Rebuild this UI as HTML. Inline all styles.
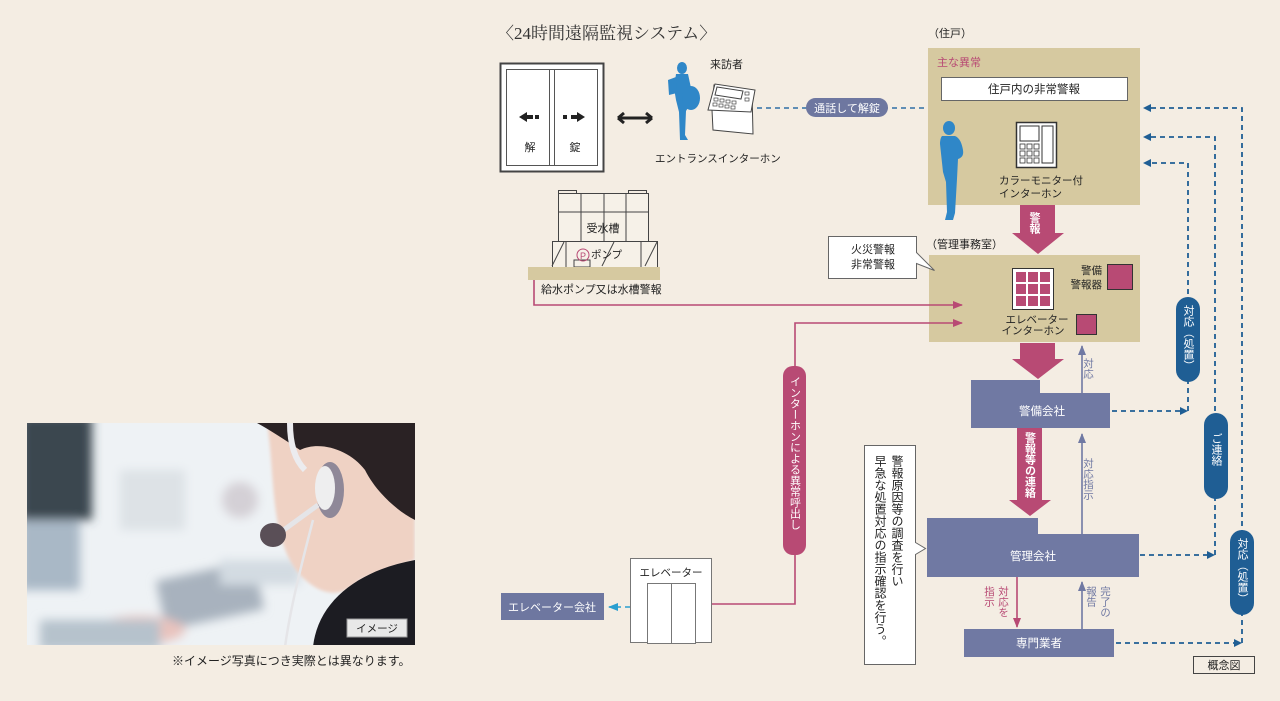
<!DOCTYPE html>
<html><head><meta charset="utf-8"><style>
html,body{margin:0;padding:0;background:#f4ede3;}
svg{display:block;font-family:"Liberation Sans","Noto Sans CJK JP",sans-serif;}
.v{writing-mode:vertical-rl;}
</style></head><body>
<svg width="1280" height="701" viewBox="0 0 1280 701" xmlns="http://www.w3.org/2000/svg">
<defs>
<filter id="bl" x="-10%" y="-10%" width="120%" height="120%"><feGaussianBlur stdDeviation="5"/></filter>
<filter id="bl2"><feGaussianBlur stdDeviation="1.5"/></filter>
<clipPath id="pc"><rect x="27" y="423" width="388" height="222"/></clipPath>
<marker id="ab" markerWidth="8" markerHeight="8" refX="6" refY="4" orient="auto" markerUnits="userSpaceOnUse"><path d="M0,0 L8,4 L0,8 z" fill="#1f5e94"/></marker>
<marker id="ap" markerWidth="10" markerHeight="10" refX="9" refY="5" orient="auto" markerUnits="userSpaceOnUse"><path d="M0,1 L10,5 L0,9 z" fill="#b84a74"/></marker>
<marker id="ag" markerWidth="10" markerHeight="10" refX="9" refY="5" orient="auto" markerUnits="userSpaceOnUse"><path d="M0,1 L10,5 L0,9 z" fill="#7079a3"/></marker>
<marker id="ac" markerWidth="10" markerHeight="10" refX="9" refY="5" orient="auto" markerUnits="userSpaceOnUse"><path d="M0,1 L10,5 L0,9 z" fill="#2a9fd0"/></marker>
</defs>

<!-- photo -->
<g clip-path="url(#pc)">
<rect x="27" y="423" width="388" height="222" fill="#eef2f5"/>
<g filter="url(#bl)">
<rect x="20" y="415" width="72" height="105" fill="#3a4650"/>
<rect x="20" y="520" width="60" height="70" fill="#a9b8c6"/>
<rect x="120" y="470" width="65" height="60" fill="#dde2e6"/>
<circle cx="240" cy="500" r="18" fill="#d4d0d6"/>
<rect x="160" y="570" width="100" height="50" fill="#a8b2be" transform="rotate(-12 210 595)"/>
<rect x="220" y="560" width="80" height="25" fill="#d3dbe2"/>
<ellipse cx="140" cy="630" rx="45" ry="14" fill="#e9c3bd"/>
<rect x="40" y="620" width="120" height="30" fill="#b6c2cc"/>
</g>
<path d="M268,430 C275,480 270,540 300,575 C320,595 340,600 360,580 L415,560 L415,423 L268,423 z" fill="#efd2c4" filter="url(#bl2)"/>
<path d="M257,423 L415,423 L415,520 C395,510 375,490 365,470 C350,450 320,440 300,450 C285,440 270,430 257,423 z" fill="#2a2224"/>
<path d="M313,647 C318,600 360,570 415,560 L415,647 z" fill="#1c1c22"/>
<path d="M290,423 C290,445 295,460 305,470" stroke="#ececef" stroke-width="6" fill="none"/>
<ellipse cx="330" cy="490" rx="14" ry="28" fill="#8f8898"/>
<ellipse cx="325" cy="488" rx="10" ry="22" fill="#eeeeef"/>
<path d="M318,505 L270,540" stroke="#e5e5e8" stroke-width="5"/>
<ellipse cx="273" cy="535" rx="13" ry="12" fill="#5a4f57"/>
<path d="M313,520 C300,570 290,610 285,647" stroke="#e5e5e8" stroke-width="2.5" fill="none"/>
</g>
<rect x="347" y="619" width="60" height="18" fill="#e8e8e8" stroke="#999"/>
<text x="377" y="632" font-size="10.5" fill="#222" text-anchor="middle">イメージ</text>
<text x="172" y="665" font-size="12" fill="#222">※イメージ写真につき実際とは異なります。</text>

<!-- title -->
<text x="497" y="39" font-size="17" fill="#333" font-family="Liberation Serif,'Noto Serif CJK SC',serif">〈24時間遠隔監視システム〉</text>

<!-- door -->
<rect x="500.5" y="63.5" width="103" height="108" fill="#fff" stroke="#444" stroke-width="2"/>
<rect x="506.5" y="69.5" width="91" height="96" fill="#fff" stroke="#555"/>
<rect x="549.5" y="69.5" width="5" height="96" fill="#fff" stroke="#555"/>
<path d="M519,117 l8,-5 v3 h6 v4 h-6 v3 z" fill="#222"/><rect x="535" y="115" width="4" height="4" fill="#222"/>
<rect x="563" y="115" width="4" height="4" fill="#222"/><path d="M585,117 l-8,-5 v3 h-6 v4 h6 v3 z" fill="#222"/>
<text x="530" y="151" font-size="11" fill="#222" text-anchor="middle">解</text>
<text x="575" y="151" font-size="11" fill="#222" text-anchor="middle">錠</text>
<path d="M618,118 h34 M618,118 l6,-5 M618,118 l6,5 M652,118 l-6,-5 M652,118 l-6,5" stroke="#222" stroke-width="3" fill="none"/>

<!-- visitor -->
<g fill="#2f87c8">
<ellipse cx="682" cy="68" rx="5" ry="6"/>
<path d="M676,74 h12 l3,14 l-2,18 l-3,5 l-1,24 l3,5 h-8 l-1,-28 l-3,-12 l-2,-12 z"/>
<path d="M668,80 l8,-3 l1,16 l-8,2 z"/>
<ellipse cx="691" cy="98" rx="9" ry="12"/>
</g>
<text x="710" y="68" font-size="11" fill="#222">来訪者</text>
<path d="M712,110 l2,-25 l38,7 l1,42 l-40,-4 z" fill="#fff" stroke="#444"/>
<path d="M708,110 l7,-26 l40,6 l-4,22 z" fill="#fff" stroke="#444"/>
<path d="M717,87 l26,4 l-2,8 l-26,-4 z" fill="none" stroke="#444"/>
<g fill="none" stroke="#444" stroke-width="0.7">
<rect x="714" y="98" width="4" height="3"/><rect x="720" y="99" width="4" height="3"/><rect x="726" y="100" width="4" height="3"/><rect x="732" y="101" width="4" height="3"/>
<rect x="713" y="103" width="4" height="3"/><rect x="719" y="104" width="4" height="3"/><rect x="725" y="105" width="4" height="3"/><rect x="731" y="106" width="4" height="3"/>
<rect x="745" y="92" width="4" height="3"/><rect x="745" y="98" width="4" height="3"/></g>
<text x="655" y="162" font-size="10.5" fill="#222">エントランスインターホン</text>

<!-- dashed visitor link -->
<path d="M757,108 H1035 V120" stroke="#2f6fa6" stroke-width="1.6" stroke-dasharray="5,4" fill="none"/>
<rect x="806" y="98" width="82" height="19" rx="9.5" fill="#6e77a0"/>
<text x="847" y="112" font-size="11" fill="#fff" text-anchor="middle">通話して解錠</text>

<!-- 住戸 -->
<text x="928" y="37" font-size="11" fill="#222">（住戸）</text>
<rect x="928" y="48" width="212" height="157" fill="#d6c9a0"/>
<text x="937" y="66" font-size="11" fill="#b84a74">主な異常</text>
<rect x="941.5" y="77.5" width="186" height="23" fill="#fff" stroke="#666"/>
<text x="1034" y="93" font-size="11.5" fill="#222" text-anchor="middle">住戸内の非常警報</text>
<g fill="#2f87c8">
<ellipse cx="949" cy="128" rx="6" ry="7"/>
<path d="M942,136 h13 c5,2 7,8 8,14 c1,6 -2,8 -5,9 l-1,20 l-2,34 l-2,7 h-8 l2,-8 l-1,-30 l-3,-10 l-3,-28 c0,-4 1,-7 2,-8 z"/>
</g>
<rect x="1016.5" y="122.5" width="40" height="45" fill="#fff" stroke="#333" stroke-width="1.5"/>
<rect x="1020" y="126" width="19" height="15" fill="none" stroke="#333"/>
<rect x="1042" y="126" width="11" height="37" fill="none" stroke="#333"/>
<g fill="none" stroke="#333" stroke-width="0.8"><rect x="1020" y="144" width="5" height="5"/><rect x="1027" y="144" width="5" height="5"/><rect x="1034" y="144" width="5" height="5"/><rect x="1020" y="151" width="5" height="5"/><rect x="1027" y="151" width="5" height="5"/><rect x="1034" y="151" width="5" height="5"/><rect x="1020" y="158" width="5" height="5"/><rect x="1027" y="158" width="5" height="5"/><rect x="1034" y="158" width="5" height="5"/></g>
<text x="999" y="184" font-size="10.5" fill="#222">カラーモニター付</text>
<text x="999" y="197" font-size="10.5" fill="#222">インターホン</text>

<!-- arrow 警報 -->
<path d="M1020,205 h35 v28 h9 l-26,21 l-26,-21 h8 z" fill="#b84a74"/>
<text x="1034" y="212" font-size="11" fill="#fff" class="v" font-weight="bold">警報</text>

<!-- 管理事務室 -->
<text x="926" y="248" font-size="11" fill="#222">（管理事務室）</text>
<rect x="929" y="255" width="211" height="87" fill="#d6c9a0"/>
<path d="M828.5,236.5 h88 v16 l18,18 l-18,-7 v15 h-88 z" fill="#fff" stroke="#666"/>
<text x="873" y="253" font-size="11" fill="#222" text-anchor="middle">火災警報</text>
<text x="873" y="268" font-size="11" fill="#222" text-anchor="middle">非常警報</text>
<rect x="1012.5" y="268.5" width="41" height="41" fill="#fff" stroke="#333"/>
<g fill="#b84a74"><rect x="1016" y="272" width="10" height="10"/><rect x="1028" y="272" width="10" height="10"/><rect x="1040" y="272" width="10" height="10"/><rect x="1016" y="284" width="10" height="10"/><rect x="1028" y="284" width="10" height="10"/><rect x="1040" y="284" width="10" height="10"/><rect x="1016" y="296" width="10" height="10"/><rect x="1028" y="296" width="10" height="10"/><rect x="1040" y="296" width="10" height="10"/></g>
<text x="1102" y="274" font-size="10.5" fill="#222" text-anchor="end">警備</text>
<text x="1102" y="288" font-size="10.5" fill="#222" text-anchor="end">警報器</text>
<rect x="1107.5" y="264.5" width="25" height="25" fill="#b84a74" stroke="#333"/>
<text x="1037" y="323" font-size="10.5" fill="#222" text-anchor="middle">エレベーター</text>
<text x="1033" y="334" font-size="10.5" fill="#222" text-anchor="middle">インターホン</text>
<rect x="1076.5" y="314.5" width="20" height="20" fill="#b84a74" stroke="#333"/>

<!-- water tank -->
<g fill="none" stroke="#444" stroke-width="1">
<rect x="558.5" y="193.5" width="90" height="48" fill="#f6f1e8"/>
<path d="M581,193 v48 M604,193 v48 M626,193 v48 M558,212 h90"/>
<rect x="558.5" y="190.5" width="18" height="3"/><rect x="628.5" y="190.5" width="18" height="3"/>
<rect x="552.5" y="241.5" width="105" height="26" fill="#f6f1e8"/>
<path d="M552,266 l12,-24 M645,266 l12,-24 M602,266 l12,-24 M566,242 v25 M641,242 v25"/>
<rect x="574" y="260" width="16" height="7"/>
</g>
<text x="603" y="232" font-size="11" fill="#222" text-anchor="middle">受水槽</text>
<circle cx="583" cy="255" r="6" fill="none" stroke="#b84a74"/><text x="583" y="259" font-size="9" fill="#b84a74" text-anchor="middle">P</text>
<text x="591" y="258" font-size="10.5" fill="#222">ポンプ</text>
<rect x="528" y="267" width="132" height="13" fill="#d6c9a0"/>
<text x="541" y="293" font-size="11" fill="#222">給水ポンプ又は水槽警報</text>

<!-- pink lines -->
<path d="M534,280 V305 H962" stroke="#b84a74" stroke-width="1.6" fill="none" marker-end="url(#ap)"/>
<path d="M712,604 H795 V323 H962" stroke="#b84a74" stroke-width="1.6" fill="none" marker-end="url(#ap)"/>
<rect x="783" y="366" width="23" height="189" rx="10" fill="#b84a74"/>
<text x="794.5" y="376" font-size="11" fill="#fff" class="v">インターホンによる異常呼出し</text>

<!-- elevator -->
<rect x="630.5" y="558.5" width="81" height="84" fill="#fff" stroke="#777"/>
<text x="671" y="576" font-size="10.5" fill="#222" text-anchor="middle">エレベーター</text>
<rect x="647.5" y="583.5" width="48" height="60" fill="#fff" stroke="#777"/>
<path d="M671.5,583 v60" stroke="#777"/>
<path d="M630,607 H609" stroke="#2a9fd0" stroke-width="1.6" stroke-dasharray="5,4" fill="none" marker-end="url(#ac)"/>
<rect x="501" y="593" width="103" height="27" fill="#6e77a0"/>
<text x="552" y="611" font-size="11" fill="#fff" text-anchor="middle">エレベーター会社</text>

<!-- pink arrow 2 -->
<path d="M1020,343 h35 v16 h9 l-26,20 l-26,-20 h8 z" fill="#b84a74"/>

<!-- 警備会社 -->
<path d="M971,380 H1040 V393 H1110 V428 H971 z" fill="#7079a3"/>
<text x="1042" y="415" font-size="11.5" fill="#fff" text-anchor="middle">警備会社</text>
<path d="M1082,393 V346" stroke="#7079a3" stroke-width="1.6" fill="none" marker-end="url(#ag)"/>
<text x="1088" y="358" font-size="10.5" fill="#7079a3" class="v">対応</text>

<!-- pink arrow 3 -->
<path d="M1017,428 h25 v72 h9 l-21,16 l-21,-16 h8 z" fill="#b84a74"/>
<text x="1029.5" y="432" font-size="11" fill="#fff" class="v" font-weight="bold">警報等の連絡</text>
<path d="M1082,534 V434" stroke="#7079a3" stroke-width="1.6" fill="none" marker-end="url(#ag)"/>
<text x="1088" y="458" font-size="10.5" fill="#7079a3" class="v">対応指示</text>

<!-- 管理会社 -->
<path d="M927,518 H1038 V534 H1139 V577 H927 z" fill="#7079a3"/>
<text x="1033" y="560" font-size="11.5" fill="#fff" text-anchor="middle">管理会社</text>
<path d="M864.5,445.5 h51 v97 l10,6 l-10,6 v110 h-51 z" fill="#fff" stroke="#666"/>
<text x="897" y="455" font-size="12" fill="#222" class="v">警報原因等の調査を行い</text>
<text x="880" y="455" font-size="12" fill="#222" class="v">早急な処置対応の指示確認を行う。</text>

<path d="M1017,577 V627" stroke="#b84a74" stroke-width="1.6" fill="none" marker-end="url(#ap)"/>
<text x="1003" y="586" font-size="10.5" fill="#b84a74" class="v">対応を</text>
<text x="989" y="586" font-size="10.5" fill="#b84a74" class="v">指示</text>
<path d="M1082,629 V582" stroke="#7079a3" stroke-width="1.6" fill="none" marker-end="url(#ag)"/>
<text x="1105" y="586" font-size="10.5" fill="#7079a3" class="v">完了の</text>
<text x="1091" y="586" font-size="10.5" fill="#7079a3" class="v">報告</text>

<!-- 専門業者 -->
<rect x="964" y="629" width="150" height="28" fill="#7079a3"/>
<text x="1039" y="647" font-size="11.5" fill="#fff" text-anchor="middle">専門業者</text>

<!-- blue dashed -->
<g stroke="#1f5e94" stroke-width="1.8" stroke-dasharray="5,4" fill="none">
<path d="M1242,643 V108 H1145" marker-end="url(#ab)"/>
<path d="M1215,555 V137 H1145" marker-end="url(#ab)"/>
<path d="M1188,411 V163 H1145" marker-end="url(#ab)"/>
<path d="M1112,411 H1186" marker-end="url(#ab)"/>
<path d="M1140,555 H1213" marker-end="url(#ab)"/>
<path d="M1116,643 H1240" marker-end="url(#ab)"/>
</g>
<rect x="1176" y="297" width="24" height="85" rx="12" fill="#1f5e94"/>
<text x="1188" y="305" font-size="11" fill="#fff" class="v">対応（処置）</text>
<rect x="1204" y="413" width="24" height="86" rx="12" fill="#1f5e94"/>
<text x="1216" y="433" font-size="11" fill="#fff" class="v">ご連絡</text>
<rect x="1230" y="530" width="24" height="85" rx="12" fill="#1f5e94"/>
<text x="1242" y="538" font-size="11" fill="#fff" class="v">対応（処置）</text>

<rect x="1193.5" y="656.5" width="61" height="17" fill="#f4ede3" stroke="#444"/>
<text x="1224" y="669" font-size="11" fill="#222" text-anchor="middle">概念図</text>
</svg>
</body></html>
